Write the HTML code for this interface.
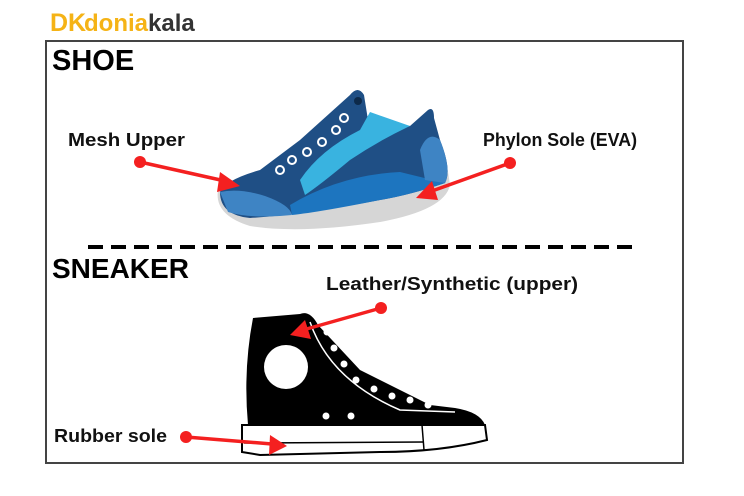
<!DOCTYPE html><html><head><style>body{margin:0;background:#fff}svg{display:block}text{font-family:"Liberation Sans",sans-serif;font-weight:bold}</style></head><body>
<svg width="744" height="496" viewBox="0 0 744 496">
<rect x="46" y="41" width="637" height="422" fill="#fff" stroke="#444" stroke-width="2"/>
<text x="50" y="31" font-size="25" fill="#f5b316" font-weight="bold">DK</text>
<text x="84" y="31" font-size="24" fill="#f5b316">donia</text>
<text x="148" y="31" font-size="24" fill="#333">kala</text>
<text x="52" y="70" font-size="29" fill="#000">SHOE</text>
<text x="52" y="278" font-size="28" fill="#000">SNEAKER</text>
<line x1="88" y1="247" x2="632" y2="247" stroke="#000" stroke-width="4" stroke-dasharray="15 8"/>
<!-- shoe -->
<path d="M218,190 Q214,215 250,226 Q300,234 380,222 Q445,210 450,185 L447,165 L220,188Z" fill="#d6d6d6"/>
<path d="M220,192 Q225,180 260,170 L300,140 L350,95 Q358,85 364,95 L368,120 L410,126 L428,110 Q434,106 434,118 L440,140 Q452,170 445,183 Q410,195 380,200 Q300,215 250,218 Q220,215 220,192Z" fill="#1f4f85"/>
<path d="M220,192 Q240,188 265,196 Q290,205 292,215 Q250,219 228,212Z" fill="#3e84c4"/>
<path d="M300,180 Q320,150 360,130 L370,112 L410,126 Q380,140 350,160 Q320,185 305,195Z" fill="#39b3e0"/>
<path d="M290,205 Q340,175 400,172 L445,183 Q410,195 380,200 Q320,212 292,215Z" fill="#1d75bf"/>
<path d="M420,150 Q428,130 440,140 Q452,170 445,183 L425,180Z" fill="#3e84c4"/>
<circle cx="358" cy="101" r="4" fill="#0d2a4a"/>
<g fill="none" stroke="#fff" stroke-width="2"><circle cx="344" cy="118" r="4"/><circle cx="336" cy="130" r="4"/><circle cx="322" cy="142" r="4"/><circle cx="307" cy="152" r="4"/><circle cx="292" cy="160" r="4"/><circle cx="280" cy="170" r="4"/></g>
<!-- sneaker -->
<path d="M253,318 L300,314 Q310,310 318,325 L360,370 L430,405 L455,408 Q480,412 485,425 L248,425 Q243,370 253,318Z" fill="#000"/>
<path d="M242,425 L485,425 L487,440 Q440,452 380,452 L260,455 L242,452Z" fill="#fff" stroke="#000" stroke-width="2"/>
<line x1="244" y1="443" x2="424" y2="442" stroke="#000" stroke-width="1.5"/>
<line x1="422" y1="425" x2="424" y2="450" stroke="#000" stroke-width="1.5"/>
<path d="M310,322 Q330,380 400,410 L455,412" fill="none" stroke="#fff" stroke-width="1.5"/>
<circle cx="286" cy="367" r="22" fill="#fff"/>
<g fill="#fff"><circle cx="326" cy="416" r="3.5"/><circle cx="351" cy="416" r="3.5"/><circle cx="327" cy="332" r="3.5"/><circle cx="334" cy="348" r="3.5"/><circle cx="344" cy="364" r="3.5"/><circle cx="356" cy="380" r="3.5"/><circle cx="374" cy="389" r="3.5"/><circle cx="392" cy="396" r="3.5"/><circle cx="410" cy="400" r="3.5"/><circle cx="428" cy="405" r="3.5"/></g>
<!-- labels & arrows -->
<g fill="#111" font-size="18"><text x="68" y="146" textLength="117" lengthAdjust="spacingAndGlyphs">Mesh Upper</text><text x="483" y="146" textLength="154" lengthAdjust="spacingAndGlyphs">Phylon Sole (EVA)</text><text x="326" y="290" textLength="252" lengthAdjust="spacingAndGlyphs">Leather/Synthetic (upper)</text><text x="54" y="442" textLength="113" lengthAdjust="spacingAndGlyphs">Rubber sole</text></g>
<g stroke="#f42020" stroke-width="3.5" fill="#f42020">
<line x1="140" y1="162" x2="225" y2="181"/><circle cx="140" cy="162" r="6" stroke="none"/><polygon points="240,186 220,172 217,192" stroke="none"/>
<line x1="510" y1="163" x2="432" y2="191"/><circle cx="510" cy="163" r="6" stroke="none"/><polygon points="416,198 432,181 438,200" stroke="none"/>
<line x1="381" y1="308" x2="303" y2="330"/><circle cx="381" cy="308" r="6" stroke="none"/><polygon points="290,335 305,320 311,339" stroke="none"/>
<line x1="186" y1="437" x2="272" y2="444"/><circle cx="186" cy="437" r="6" stroke="none"/><polygon points="287,446 270,435 269,455" stroke="none"/>
</g>
</svg></body></html>
